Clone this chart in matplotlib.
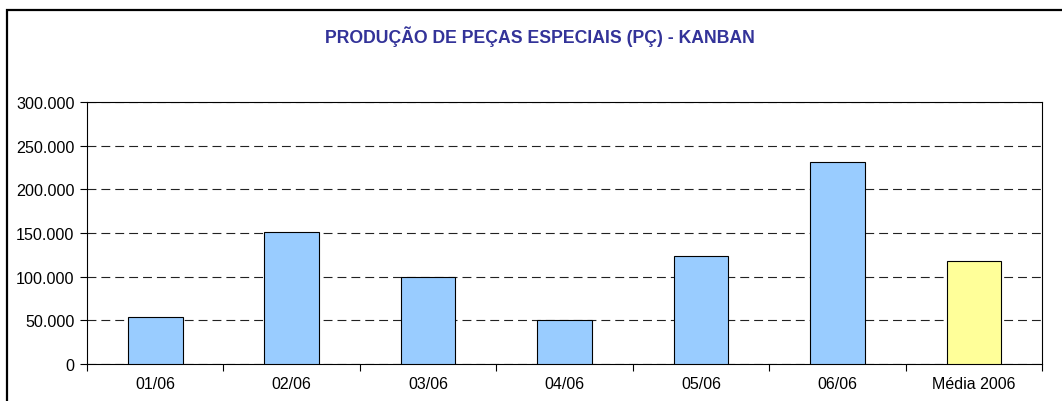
import matplotlib.pyplot as plt
from matplotlib.patches import Rectangle
from matplotlib.ticker import FuncFormatter, MultipleLocator
import numpy as np

categories = ["01/06", "02/06", "03/06", "04/06", "05/06", "06/06", "Média 2006"]
values = [53800, 151100, 99600, 50400, 123700, 230900, 118300]
colors = ["#99CCFF"] * 6 + ["#FFFF99"]

plt.rcParams['font.family'] = ['Liberation Sans', 'DejaVu Sans']

fig = plt.figure(figsize=(10.62, 4.02), dpi=100)
ax = fig.add_axes([87 / 1062, 37 / 402, 955 / 1062, 262 / 402])

x = np.arange(len(categories))
ax.bar(x, values, width=0.4, color=colors, edgecolor="black", linewidth=0.8, zorder=3)

ax.set_xlim(-0.5, len(categories) - 0.5)
ax.set_ylim(0, 300000)
ax.yaxis.set_major_locator(MultipleLocator(50000))
ax.yaxis.set_major_formatter(FuncFormatter(lambda v, p: f"{int(v):,}".replace(",", ".")))
ax.grid(axis="y", color="#222222", linestyle=(0, (8, 4.5)), linewidth=0.8, zorder=1)

ax.set_xticks(x)
ax.set_xticklabels(categories)
ax.set_xticks(np.arange(-0.5, len(categories)), minor=True)
ax.tick_params(axis="x", which="major", length=0, pad=9, labelsize=11.5)
ax.tick_params(axis="x", which="minor", length=5, width=0.8, direction="out")
ax.tick_params(axis="y", length=5, width=0.8, labelsize=11.6, pad=4)

for s in ax.spines.values():
    s.set_linewidth(0.8)
    s.set_color("black")

fig.text(540 / 1062, 1 - 37 / 402, "PRODUÇÃO DE PEÇAS ESPECIAIS (PÇ) - KANBAN",
         ha="center", va="center", fontsize=12.7, fontweight="bold", color="#333399")

fig.patches.append(Rectangle((7 / 1062, -0.1), 1.2, 0.1 + (402 - 11) / 402,
                             transform=fig.transFigure, fill=False,
                             edgecolor="black", linewidth=1.6))

fig.savefig("out.png", dpi=100)
